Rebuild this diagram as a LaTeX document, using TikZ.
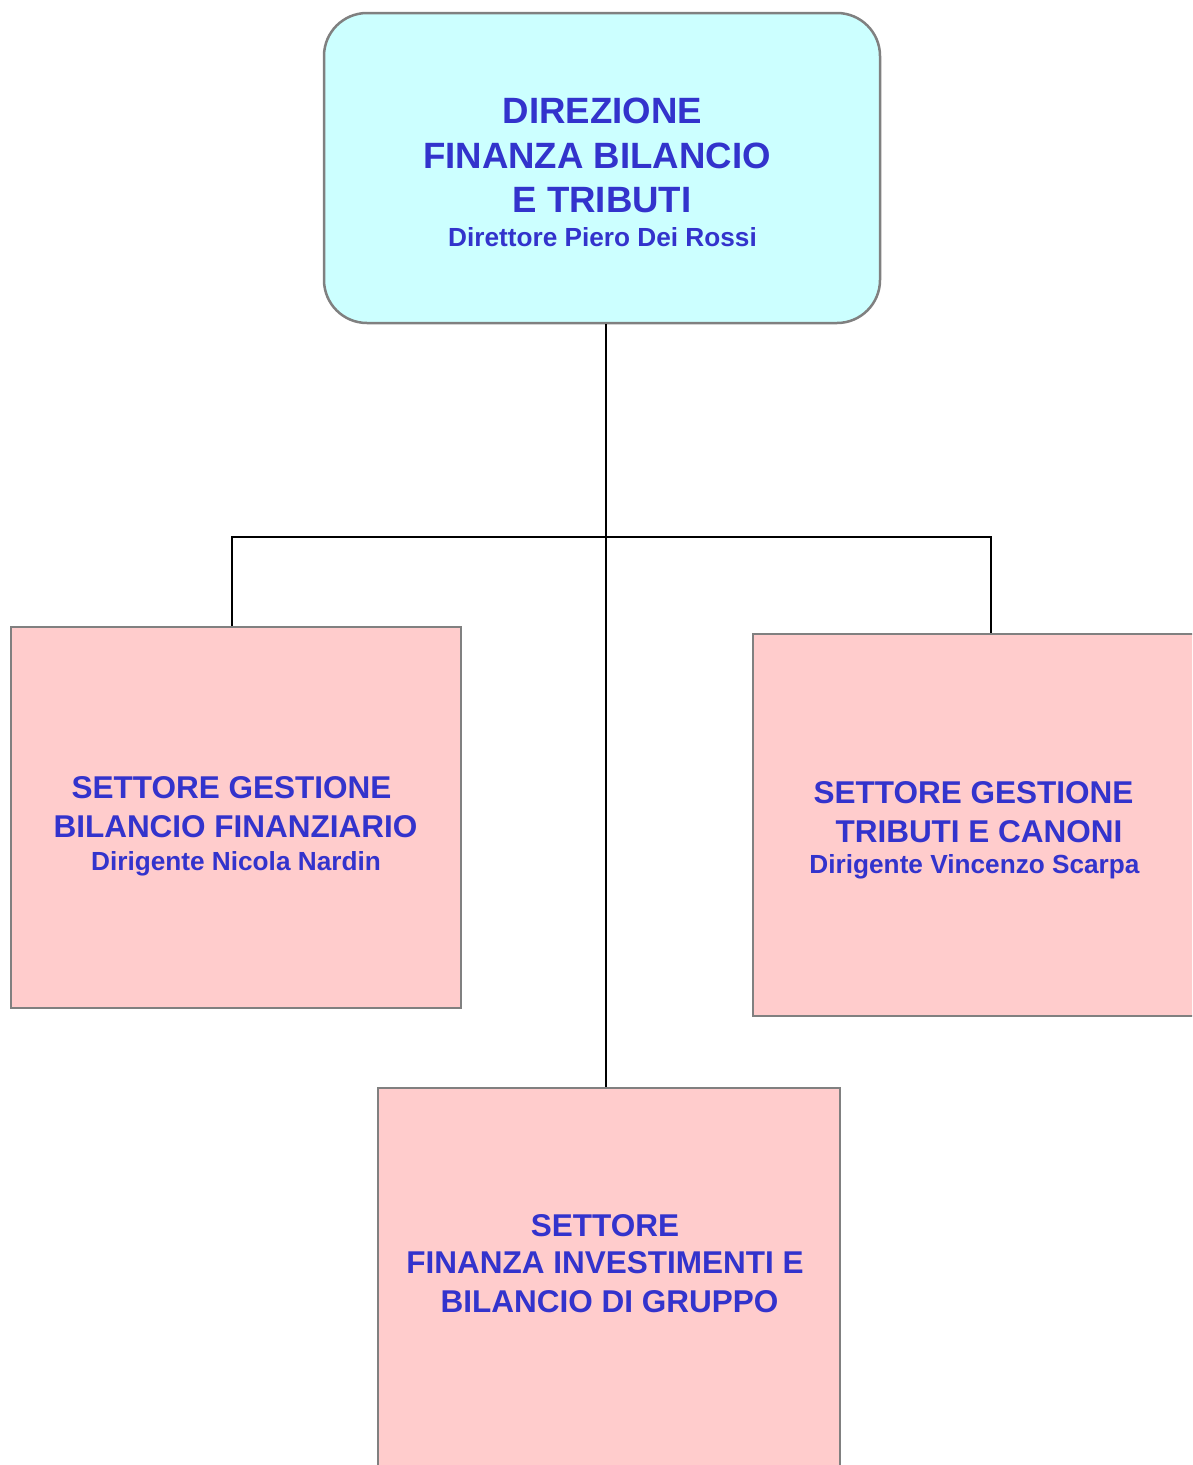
\documentclass[tikz,border=0pt]{standalone}
\usepackage{fontspec}
\setmainfont{Liberation Sans}
\definecolor{txtblue}{HTML}{3333CC}
\definecolor{cyanfill}{HTML}{CCFFFF}
\definecolor{pinkfill}{HTML}{FFCCCC}
\definecolor{boxgray}{HTML}{808080}
\tikzset{
  topbox/.style={draw=boxgray, line width=2.5pt, fill=cyanfill, rounded corners=43pt, inner sep=0pt},
  pinkbox/.style={draw=boxgray, line width=2.5pt, fill=pinkfill, inner sep=0pt},
  conn/.style={draw=black, line width=1.8pt},
  txt/.style={text=txtblue, anchor=base, inner sep=0pt, font=\bfseries},
  tline/.style={txt, font=\fontsize{36.6pt}{44pt}\selectfont\bfseries},
  sline/.style={txt, font=\fontsize{31.5pt}{38pt}\selectfont\bfseries},
  dline/.style={txt, font=\fontsize{26.2pt}{31pt}\selectfont\bfseries}
}
\begin{document}
\begin{tikzpicture}[x=1pt, y=-1pt]
\path[use as bounding box, clip] (0,0) rectangle (1192,1465);
\fill[white] (0,0) rectangle (1192,1465);
% connectors
\coordinate (j) at (606,537);
\coordinate (jl) at (232,537);
\coordinate (jr) at (991,537);
% boxes
\node[topbox, minimum width=556pt, minimum height=310pt] (top) at (602,168) {};
\node[pinkbox, minimum width=450pt, minimum height=381pt] (left) at (236,817.5) {};
\node[pinkbox, minimum width=460pt, minimum height=382pt] (right) at (983,825) {};
\node[pinkbox, minimum width=462pt, minimum height=382pt] (bot) at (609,1279) {};
\draw[conn] (top.south -| j) -- (bot.north -| j);
\draw[conn] (left.north -| jl) -- (jl) -- (jr) -- (right.north -| jr);
% top texts
\node[tline] (t1) at (602.5,123) {DIREZIONE};
\node[tline] (t2) at (597,168) {FINANZA BILANCIO};
\node[tline] (t3) at (602,212) {E TRIBUTI};
\node[dline] (t4) at (602.5,246) {Direttore Piero Dei Rossi};
% left texts
\node[sline] (l1) at (231.5,798) {SETTORE GESTIONE};
\node[sline] (l2) at (235.5,837) {BILANCIO FINANZIARIO};
\node[dline] (l3) at (236,870) {Dirigente Nicola Nardin};
% right texts
\node[sline] (r1) at (973.5,803) {SETTORE GESTIONE};
\node[sline] (r2) at (979,842) {TRIBUTI E CANONI};
\node[dline] (r3) at (974.5,873) {Dirigente Vincenzo Scarpa};
% bottom texts
\node[sline] (b1) at (605,1236) {SETTORE};
\node[sline] (b2) at (605,1273) {FINANZA INVESTIMENTI E};
\node[sline] (b3) at (609.5,1312) {BILANCIO DI GRUPPO};
\end{tikzpicture}
\end{document}
